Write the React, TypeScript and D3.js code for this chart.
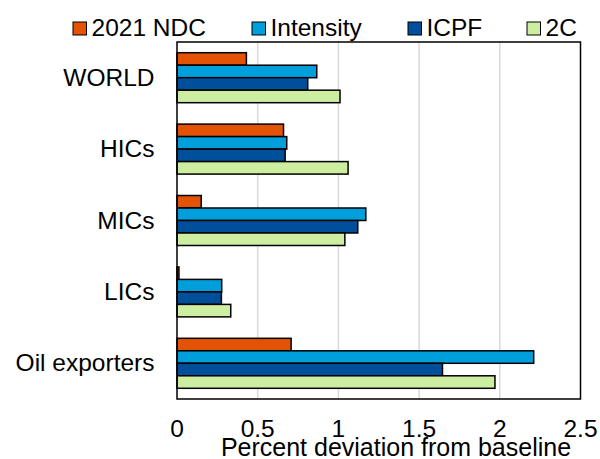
import React from "react";
import * as d3 from "d3";

const categories = ["WORLD", "HICs", "MICs", "LICs", "Oil exporters"];
const seriesNames = ["2021 NDC", "Intensity", "ICPF", "2C"];
const seriesColors = ["#E35205", "#009EDB", "#004F9A", "#CDEEA0"];

const ndc = [0.43, 0.66, 0.15, 0.012, 0.707];
const intensity = [0.866, 0.68, 1.17, 0.277, 2.21];
const icpf = [0.81, 0.67, 1.12, 0.275, 1.645];
const twoC = [1.01, 1.06, 1.04, 0.333, 1.97];
const seriesValues = [ndc, intensity, icpf, twoC];

const xTicks = [0, 0.5, 1, 1.5, 2, 2.5];
const xTickLabels = ["0", "0.5", "1", "1.5", "2", "2.5"];
const xTitle = "Percent deviation from baseline";

const W = 600;
const H = 459;
const M = { left: 177, right: 580.5, top: 42, bottom: 399 };
const FONT = "'Liberation Sans', Arial, sans-serif";
const FS = 24.5;

export default function App() {
  const x = d3.scaleLinear().domain([0, 2.5]).range([M.left, M.right]);
  const y = d3
    .scaleBand<string>()
    .domain(categories)
    .range([M.top, M.bottom])
    .paddingInner(0.3)
    .paddingOuter(0.15);
  const ySub = d3
    .scaleBand<string>()
    .domain(seriesNames)
    .range([0, y.bandwidth()]);

  const legendX = [73, 252, 408, 527];

  return (
    <svg
      width={W}
      height={H}
      style={{ position: "absolute", left: 0, top: 0, background: "#fff" }}
      fontFamily={FONT}
    >
      <rect x={0} y={0} width={W} height={H} fill="#fff" />
      {/* vertical gridlines */}
      {xTicks.slice(1, -1).map((t) => (
        <line
          key={t}
          x1={x(t)}
          x2={x(t)}
          y1={M.top}
          y2={M.bottom}
          stroke="#D9D9D9"
          strokeWidth={1.5}
        />
      ))}
      {/* bars */}
      {categories.map((c, ci) => (
        <g key={c} transform={`translate(0,${y(c)})`}>
          {seriesNames.map((s, si) => (
            <rect
              key={s}
              x={x(0)}
              y={ySub(s)!}
              width={x(seriesValues[si][ci]) - x(0)}
              height={ySub.bandwidth()}
              fill={seriesColors[si]}
              stroke="#000"
              strokeWidth={1.5}
            />
          ))}
        </g>
      ))}
      {/* plot frame */}
      <rect
        x={M.left}
        y={M.top}
        width={M.right - M.left}
        height={M.bottom - M.top}
        fill="none"
        stroke="#000"
        strokeWidth={1.5}
      />
      {/* category labels */}
      {categories.map((c) => (
        <text
          key={c}
          x={154.5}
          y={y(c)! + y.bandwidth() / 2 + 8}
          textAnchor="end"
          fontSize={FS}
          fill="#000"
        >
          {c}
        </text>
      ))}
      {/* x tick labels */}
      {xTicks.map((t, i) => (
        <text
          key={t}
          x={x(t)}
          y={437}
          textAnchor="middle"
          fontSize={FS}
          fill="#000"
        >
          {xTickLabels[i]}
        </text>
      ))}
      <text x={396} y={455.5} textAnchor="middle" fontSize={25} fill="#000">
        {xTitle}
      </text>
      {/* legend */}
      {seriesNames.map((s, i) => (
        <g key={s}>
          <rect
            x={legendX[i]}
            y={22}
            width={13.5}
            height={13}
            fill={seriesColors[i]}
            stroke="#000"
            strokeWidth={1}
          />
          <text x={legendX[i] + 18.5} y={35.5} fontSize={FS} fill="#000">
            {s}
          </text>
        </g>
      ))}
    </svg>
  );
}
